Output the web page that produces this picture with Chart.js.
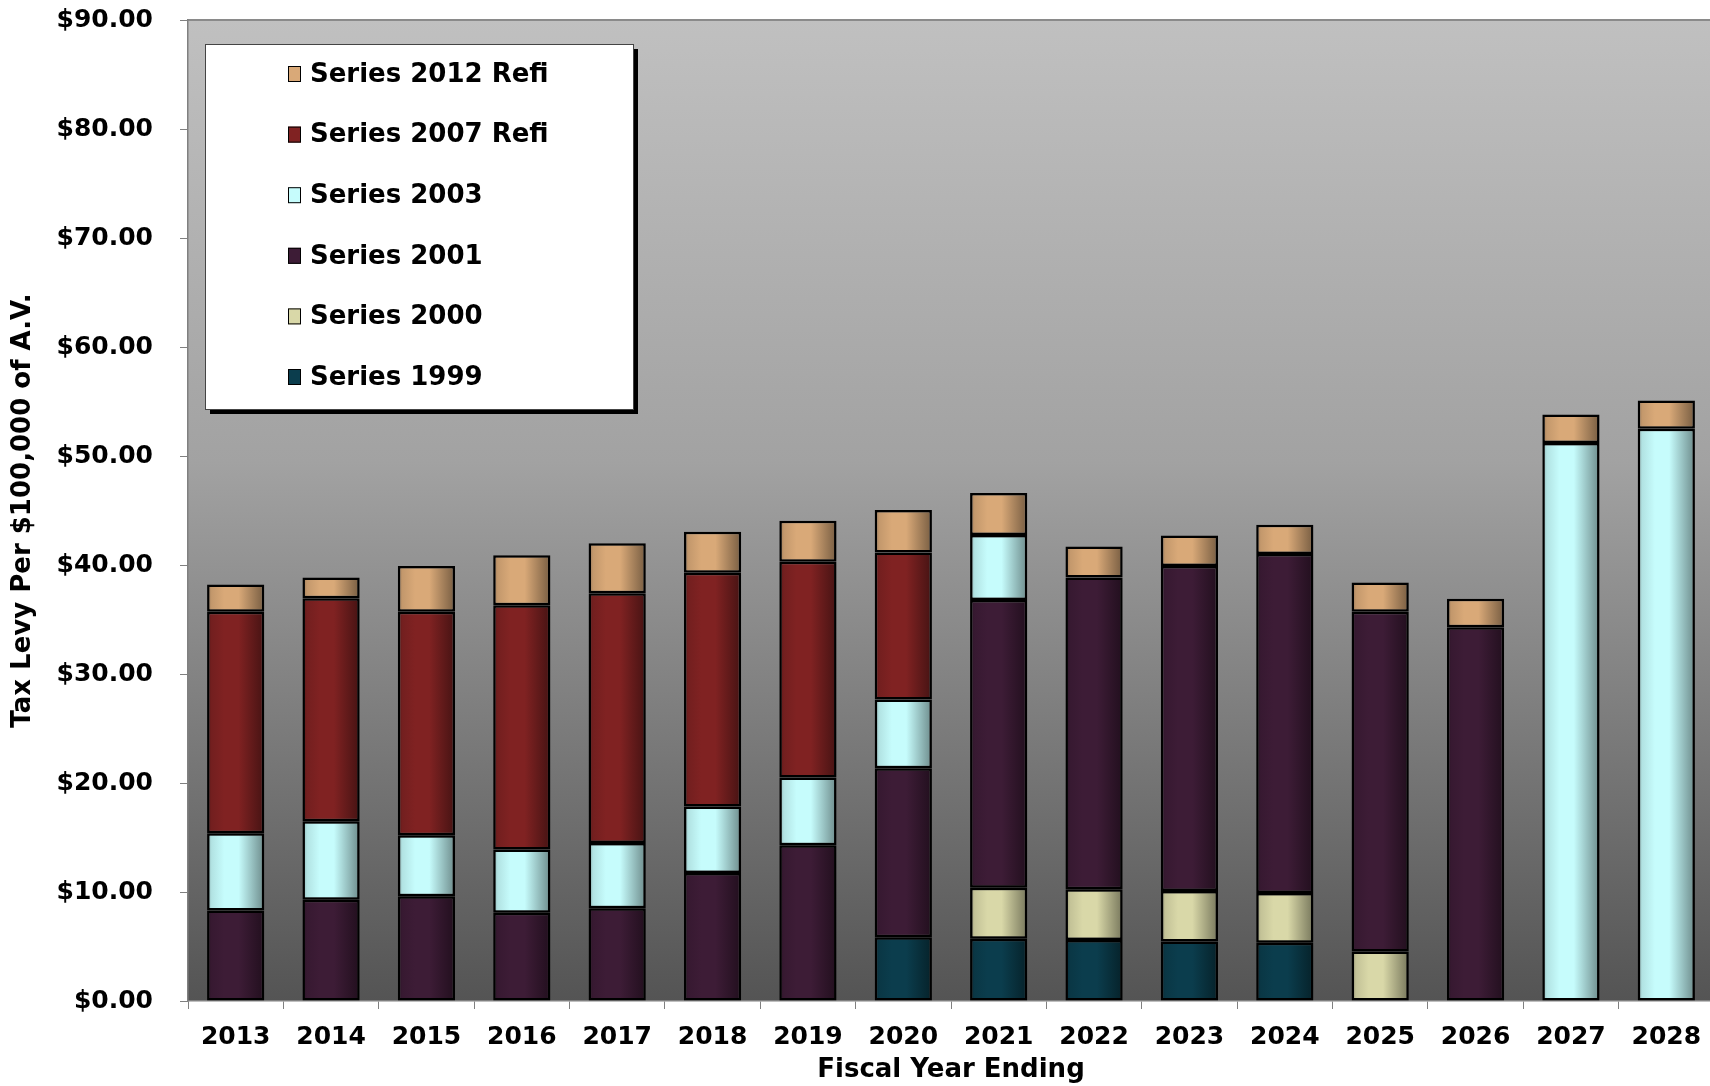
<!DOCTYPE html>
<html>
<head>
<meta charset="utf-8">
<script src="https://cdn.jsdelivr.net/npm/chart.js@4.4.1/dist/chart.umd.min.js"></script>
<style>
  html, body { margin: 0; padding: 0; background: #fff; overflow: hidden; }
  #wrap { position: relative; width: 1716px; height: 1086px; }
</style>
</head>
<body>
<div id="wrap"><canvas id="levyChart"></canvas></div>
<script>
// fiscal years on the x axis
const years = ['2013', '2014', '2015', '2016', '2017', '2018', '2019', '2020',
               '2021', '2022', '2023', '2024', '2025', '2026', '2027', '2028'];

// tax levy per $100,000 of A.V., by bond series (bottom of stack first)
const series1999   = [null, null, null, null, null, null, null, 5.85, 5.7, 5.6, 5.45, 5.35, null, null, null, null];
const series2000   = [null, null, null, null, null, null, null, null, 4.7, 4.65, 4.65, 4.55, 4.55, null, null, null];
const series2001   = [8.3, 9.3, 9.6, 8.1, 8.5, 11.75, 14.3, 15.5, 26.4, 28.6, 29.8, 31.1, 31.15, 34.3, null, null];
const series2003   = [7.1, 7.2, 5.6, 5.8, 6.0, 6.1, 6.2, 6.3, 5.95, null, null, null, null, null, 51.2, 52.5];
const series2007R  = [20.3, 20.45, 20.5, 22.4, 22.9, 21.45, 19.8, 13.5, null, null, null, null, null, null, null, null];
const series2012R  = [2.5, 1.9, 4.2, 4.6, 4.6, 3.75, 3.75, 3.9, 3.85, 2.85, 2.8, 2.7, 2.7, 2.6, 2.6, 2.6];

const seriesNames  = ['Series 1999', 'Series 2000', 'Series 2001', 'Series 2003', 'Series 2007 Refi', 'Series 2012 Refi'];
const seriesColors = ['#0b3d4d', '#d9d8a8', '#3d1c36', '#c6fcfc', '#802222', '#d9a978'];

const yMax = 90, yStep = 10;
const barPct = 0.6;

function shade(hex, f) {
  const n = parseInt(hex.slice(1), 16);
  const r = Math.min(255, Math.round(((n >> 16) & 255) * f));
  const g = Math.min(255, Math.round(((n >> 8) & 255) * f));
  const b = Math.min(255, Math.round((n & 255) * f));
  return `rgb(${r},${g},${b})`;
}

// horizontal "cylinder" shading across each bar
function barFill(color) {
  return (c) => {
    const chart = c.chart;
    const xs = chart.scales.x;
    if (!chart.chartArea || !xs || c.dataIndex === undefined) return color;
    const cx = xs.getPixelForValue(c.dataIndex);
    const half = (xs.width / years.length) * barPct / 2;
    const g = chart.ctx.createLinearGradient(cx - half, 0, cx + half, 0);
    g.addColorStop(0, shade(color, 0.7));
    g.addColorStop(0.08, shade(color, 0.9));
    g.addColorStop(0.3, color);
    g.addColorStop(0.55, color);
    g.addColorStop(1, shade(color, 0.55));
    return g;
  };
}

const plotBackground = {
  id: 'plotBackground',
  beforeDraw(chart) {
    const {ctx, chartArea: a} = chart;
    const g = ctx.createLinearGradient(0, a.top, 0, a.bottom);
    g.addColorStop(0, '#c0c0c0');
    g.addColorStop(0.45, '#a2a2a2');
    g.addColorStop(1, '#545454');
    ctx.save();
    ctx.fillStyle = g;
    ctx.fillRect(a.left, a.top, a.right - a.left, a.bottom - a.top);
    ctx.strokeStyle = '#8a8a8a';
    ctx.lineWidth = 2;
    ctx.beginPath();
    ctx.moveTo(a.left, a.top);
    ctx.lineTo(a.right, a.top);
    ctx.stroke();
    ctx.restore();
  }
};

const boxLegend = {
  id: 'boxLegend',
  afterDraw(chart) {
    const {ctx, chartArea: a} = chart;
    const x = a.left + 17, y = a.top + 24, w = 428, h = 365;
    ctx.save();
    ctx.fillStyle = '#000';
    ctx.fillRect(x + 5, y + 5, w, h);
    ctx.fillStyle = '#fff';
    ctx.fillRect(x, y, w, h);
    ctx.strokeStyle = '#444';
    ctx.lineWidth = 1;
    ctx.strokeRect(x + 0.5, y + 0.5, w, h);
    ctx.font = 'bold 26px "DejaVu Sans"';
    ctx.textBaseline = 'middle';
    const items = chart.data.datasets.slice().reverse();
    items.forEach((ds, i) => {
      const cy = y + 30 + i * 60.6;
      ctx.fillStyle = ds.swatch;
      ctx.fillRect(x + 83, cy - 8, 13, 16);
      ctx.strokeStyle = '#000';
      ctx.strokeRect(x + 83.5, cy - 7.5, 12, 15);
      ctx.fillStyle = '#000';
      ctx.fillText(ds.label, x + 105, cy + 1);
    });
    ctx.restore();
  }
};

const values = [series1999, series2000, series2001, series2003, series2007R, series2012R];

new Chart(document.getElementById('levyChart'), {
  type: 'bar',
  data: {
    labels: years,
    datasets: values.map((v, i) => ({
      label: seriesNames[i],
      data: v,
      swatch: seriesColors[i],
      backgroundColor: barFill(seriesColors[i]),
      borderColor: '#000',
      borderWidth: 2.5,
      borderSkipped: false,
      categoryPercentage: 1,
      barPercentage: barPct
    }))
  },
  options: {
    responsive: true,
    maintainAspectRatio: false,
    animation: false,
    layout: { padding: { top: 20, right: 2, left: 0, bottom: 0 } },
    plugins: {
      legend: { display: false },
      tooltip: { enabled: false }
    },
    scales: {
      x: {
        stacked: true,
        grid: { offset: true, drawOnChartArea: false, drawTicks: true, tickLength: 8, color: '#808080' },
        border: { color: '#808080', width: 1.5 },
        ticks: { color: '#000', padding: 13, font: { family: 'DejaVu Sans', weight: 'bold', size: 25 } },
        title: {
          display: true, text: 'Fiscal Year Ending', color: '#000',
          padding: { top: 0, bottom: 0 },
          font: { family: 'DejaVu Sans', weight: 'bold', size: 26 }
        },
        afterFit: (s) => { s.height = 85; s.paddingLeft = 0; s.paddingRight = 0; }
      },
      y: {
        stacked: true,
        min: 0, max: yMax,
        grid: { drawOnChartArea: false, drawTicks: true, tickLength: 8, color: '#808080' },
        border: { color: '#808080', width: 1.5 },
        ticks: {
          stepSize: yStep, color: '#000', padding: 27,
          font: { family: 'DejaVu Sans', weight: 'bold', size: 25 },
          callback: (v) => '$' + Number(v).toFixed(2)
        },
        title: {
          display: true, text: 'Tax Levy Per $100,000 of A.V.', color: '#000',
          padding: { top: 8, bottom: 0 },
          font: { family: 'DejaVu Sans', weight: 'bold', size: 26 }
        },
        afterFit: (s) => { s.width = 188; s.paddingTop = 0; s.paddingBottom = 0; }
      }
    }
  },
  plugins: [plotBackground, boxLegend]
});
</script>
</body>
</html>
